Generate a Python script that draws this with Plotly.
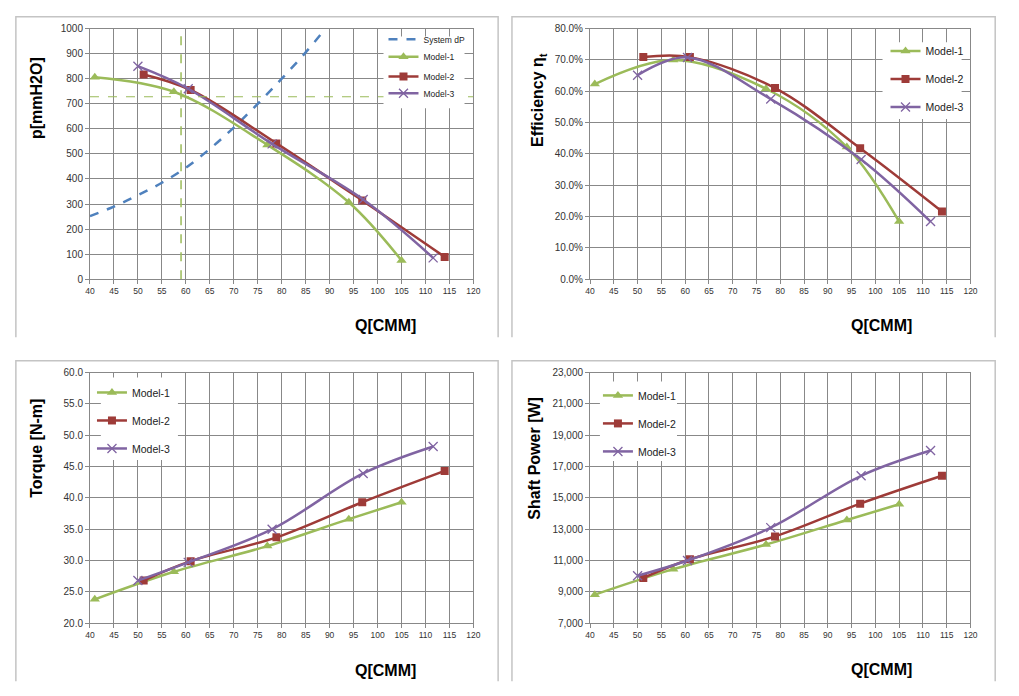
import plotly.graph_objects as go

# ---------------- data ----------------
sys_Q = [40, 45, 50, 55, 60, 65, 70, 75, 80, 85, 90]
sys_dP = [252, 290, 335, 385, 445, 520, 605, 700, 800, 905, 1020]

m1_Q = [41, 57.5, 77, 94, 105]
m2_Q = [51.2, 61, 78.9, 96.8, 114]
m3_Q = [50, 60.5, 78, 97, 111.6]

m1_p = [806, 748, 536, 307, 75]
m2_p = [817, 755, 542, 314, 89]
m3_p = [850, 760, 540, 318, 85]

m1_eff = [62.3, 70.0, 60.8, 42.2, 18.4]
m2_eff = [70.9, 70.9, 61.0, 41.8, 21.6]
m3_eff = [65.1, 70.8, 57.5, 38.2, 18.4]

m1_tq = [23.8, 28.2, 32.3, 36.6, 39.3]
m2_tq = [26.8, 29.9, 33.7, 39.3, 44.3]
m3_tq = [26.8, 29.7, 35.0, 43.9, 48.2]

m1_pw = [8820, 10450, 12020, 13590, 14590]
m2_pw = [9890, 11080, 12540, 14630, 16410]
m3_pw = [10030, 11000, 13100, 16410, 18020]

op_Q = 59
op_p = 728

x_ticks = list(range(40, 121, 5))

# ---------------- styling ----------------
W, H = 1019, 696
BLUE = "#4f81bd"
GREEN = "#9bbb59"
RED = "#9e3b38"
PURPLE = "#8064a2"
GRID = "#888888"
FONT = "Liberation Sans, Arial, sans-serif"
TICKC = "#333333"


def px(x):
    return x / W


def py(y):
    return 1 - y / H


XD_L = [px(86), px(474)]
XD_R = [px(592), px(977)]
YD_T = [py(278), py(23)]
YD_B = [py(628), py(373)]

fig = go.Figure()

panels = {
    1: dict(xd=XD_L, yd=YD_T, yr=[0, 1000], dt=100, fmt="d", suf="",
            legends=["legend5", "legend6", "legend7"]),
    2: dict(xd=XD_R, yd=YD_T, yr=[0, 80], dt=10, fmt=".1f", suf="%",
            legends=["legend2"] * 3),
    3: dict(xd=XD_L, yd=YD_B, yr=[20, 60], dt=5, fmt=".1f", suf="",
            legends=["legend3"] * 3),
    4: dict(xd=XD_R, yd=YD_B, yr=[7000, 23000], dt=2000, fmt=",d", suf="",
            legends=["legend4"] * 3),
}

series = {
    1: [m1_p, m2_p, m3_p],
    2: [m1_eff, m2_eff, m3_eff],
    3: [m1_tq, m2_tq, m3_tq],
    4: [m1_pw, m2_pw, m3_pw],
}

models = [
    ("Model-1", m1_Q, GREEN, dict(symbol="triangle-up", size=9, color=GREEN)),
    ("Model-2", m2_Q, RED, dict(symbol="square", size=8, color=RED)),
    ("Model-3", m3_Q, PURPLE, dict(symbol="x-thin", size=9, color=PURPLE,
                                   line=dict(width=1.3, color=PURPLE))),
]

for i in range(1, 5):
    p = panels[i]
    xa = "x" if i == 1 else f"x{i}"
    ya = "y" if i == 1 else f"y{i}"
    if i == 1:
        fig.add_trace(go.Scatter(
            x=sys_Q, y=sys_dP, name="System dP", mode="lines",
            line=dict(color=BLUE, width=2.5, dash="dash", shape="spline"),
            xaxis=xa, yaxis=ya, legend="legend", legendgroup=f"g{i}s"))
    for (name, q, col, mk), yv, lg in zip(models, series[i], p["legends"]):
        fig.add_trace(go.Scatter(
            x=q, y=yv, name=name, mode="lines+markers",
            line=dict(color=col, width=2.5, shape="spline", smoothing=1.0),
            marker=mk, xaxis=xa, yaxis=ya, legend=lg,
            legendgroup=f"g{i}{name}"))

    axis_common = dict(showgrid=True, gridcolor=GRID, gridwidth=1,
                       showline=True, linecolor=GRID, linewidth=1, mirror=True,
                       ticks="outside", ticklen=4, tickcolor=GRID, zeroline=False)
    fig.update_layout(**{
        ("xaxis" if i == 1 else f"xaxis{i}"): dict(
            domain=p["xd"], range=[40, 120], tickvals=x_ticks,
            anchor=ya, tickfont=dict(family=FONT, size=8.5, color=TICKC), **axis_common),
        ("yaxis" if i == 1 else f"yaxis{i}"): dict(
            domain=p["yd"], range=p["yr"], dtick=p["dt"], tick0=p["yr"][0],
            tickformat=p["fmt"], ticksuffix=p["suf"], anchor=xa,
            tickfont=dict(family=FONT, size=10, color=TICKC), **axis_common),
    })

# operating point reference lines (top-left)
fig.add_shape(type="line", xref="x", yref="y", x0=op_Q, x1=op_Q, y0=0, y1=1000,
              line=dict(color=GREEN, width=1.5, dash="dash"))
fig.add_shape(type="line", xref="x", yref="y", x0=40, x1=120, y0=op_p, y1=op_p,
              line=dict(color=GREEN, width=1.2, dash="dash"))

# white legend boxes (the legends are drawn on top of them)
for (l, r, t, b) in [(383, 465, 31, 104), (888, 968, 37, 115),
                     (97, 175, 378, 462), (602, 680, 382, 463)]:
    fig.add_shape(type="rect", xref="paper", yref="paper", layer="above",
                  x0=px(l), x1=px(r), y0=py(b), y1=py(t),
                  fillcolor="white", line=dict(width=0))

# chart frames (left, top, right edges)
for (l, r, t, b) in [(11, 499, 11, 337), (513, 1002, 11, 337),
                     (11, 499, 361, 687), (513, 1002, 361, 687)]:
    fig.add_shape(type="path", xref="paper", yref="paper",
                  path=f"M {px(l)} {py(b)} L {px(l)} {py(t)} L {px(r)} {py(t)} L {px(r)} {py(b)}",
                  line=dict(color="#c4c4c4", width=1.5))

# axis titles
TF = dict(family=FONT, size=16, color="#000000")
ytitles = [("p[mmH2O]", 32, 94), ("Efficiency η<sub>t</sub>", 540, 96),
           ("Torque [N-m]", 32, 450), ("Shaft Power [W]", 535, 460)]
for txt, x, y in ytitles:
    fig.add_annotation(text=f"<b>{txt}</b>", x=px(x), y=py(y), xref="paper", yref="paper",
                       textangle=-90, showarrow=False, font=TF,
                       xanchor="center", yanchor="middle")
for x, y in [(385, 325), (887, 325), (385, 676), (887, 675)]:
    fig.add_annotation(text="<b>Q[CMM]</b>", x=px(x), y=py(y), xref="paper", yref="paper",
                       showarrow=False, font=TF, xanchor="center", yanchor="middle")

leg_common = dict(bgcolor="rgba(0,0,0,0)", borderwidth=0, xanchor="left", yanchor="top",
                  itemwidth=30, orientation="v")
small = dict(family=FONT, size=8.5, color="#222")
big = dict(family=FONT, size=10.5, color="#222")
OFF = 20  # distance from legend top to first entry centre
fig.update_layout(
    width=W, height=H, margin=dict(l=0, r=0, t=0, b=0),
    paper_bgcolor="white", plot_bgcolor="white",
    showlegend=True,
    legend=dict(x=px(383), y=py(39 - OFF), font=small, tracegroupgap=0, **leg_common),
    legend5=dict(x=px(383), y=py(57 - OFF), font=small, tracegroupgap=0, **leg_common),
    legend6=dict(x=px(383), y=py(77 - OFF), font=small, tracegroupgap=0, **leg_common),
    legend7=dict(x=px(383), y=py(94 - OFF), font=small, tracegroupgap=0, **leg_common),
    legend2=dict(x=px(891), y=py(31), font=big, tracegroupgap=9, **leg_common),
    legend3=dict(x=px(88), y=py(378.5), font=big, tracegroupgap=9, **leg_common),
    legend4=dict(x=px(600), y=py(381.5), font=big, tracegroupgap=9, **leg_common),
)

fig.write_html("out.html", config={"displayModeBar": False},
               post_script="document.body.style.margin='0';document.body.style.overflow='hidden';")
